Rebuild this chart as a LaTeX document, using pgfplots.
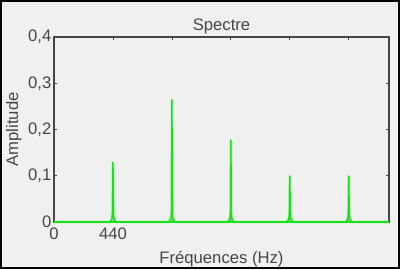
\documentclass[border=0pt]{standalone}
\usepackage{pgfplots}
\pgfplotsset{compat=1.18}
\usepackage{fontspec}
\setmainfont{Liberation Sans}
\definecolor{bg}{RGB}{240,240,240}
\definecolor{spec}{RGB}{25,225,25}
\definecolor{axc}{RGB}{70,70,70}
\begin{document}
\begin{tikzpicture}
\path[use as bounding box, fill=bg] (-40.5pt,-35.25pt) rectangle (259.5pt,166.5pt);
\begin{axis}[
  at={(0,0)}, anchor=south west,
  scale only axis, width=251.25pt, height=138.75pt,
  xmin=0, xmax=2500, ymin=0, ymax=0.4,
  axis background/.style={fill=bg},
  axis line style={axc, line width=0.8pt},
  tick style={axc, line width=0.6pt},
  tick align=inside, major tick length=2pt,
  xtick={0,440,880,1320,1760,2200},
  xticklabels={0,440,,,,},
  ytick={0,0.1,0.2,0.3,0.4},
  yticklabels={0,{0,1},{0,2},{0,3},{0,4}},
  ticklabel style={font=\fontsize{12.5}{14}\selectfont, text=axc},
  xticklabel style={yshift=-1pt},
  yticklabel style={xshift=1.5pt},
  title={Spectre},
  title style={font=\fontsize{12.5}{14}\selectfont, text=axc, yshift=-7pt},
  xlabel={Fréquences (Hz)},
  xlabel style={font=\fontsize{12.5}{14}\selectfont, text=axc, yshift=-1.5pt},
  ylabel={Amplitude},
  ylabel style={font=\fontsize{12.5}{14}\selectfont, text=axc, yshift=-2pt},
  clip=false,
]
\addplot[spec!45, line width=2.2pt, opacity=0.6] coordinates {
(0,0) (415,0) (432,0.006) (437,0.02) (440,0.13) (443,0.02) (448,0.006) (465,0)
(855,0) (872,0.006) (877,0.02) (880,0.265) (883,0.02) (888,0.006) (905,0)
(1295,0) (1312,0.006) (1317,0.02) (1320,0.178) (1323,0.02) (1328,0.006) (1345,0)
(1735,0) (1752,0.006) (1757,0.02) (1760,0.1) (1763,0.02) (1768,0.006) (1785,0)
(2175,0) (2192,0.006) (2197,0.02) (2200,0.1) (2203,0.02) (2208,0.006) (2225,0) (2500,0)
};
\addplot[spec, line width=1.1pt] coordinates {
(0,0) (415,0) (432,0.006) (437,0.02) (440,0.13) (443,0.02) (448,0.006) (465,0)
(855,0) (872,0.006) (877,0.02) (880,0.265) (883,0.02) (888,0.006) (905,0)
(1295,0) (1312,0.006) (1317,0.02) (1320,0.178) (1323,0.02) (1328,0.006) (1345,0)
(1735,0) (1752,0.006) (1757,0.02) (1760,0.1) (1763,0.02) (1768,0.006) (1785,0)
(2175,0) (2192,0.006) (2197,0.02) (2200,0.1) (2203,0.02) (2208,0.006) (2225,0) (2500,0)
};
\addplot[spec, line width=2.2pt] coordinates {(0,0) (2500,0)};
\end{axis}
\draw[black, line width=1.2pt] (-40.5pt+0.6pt,-35.25pt+0.6pt) rectangle (259.5pt-0.6pt,166.5pt-0.6pt);
\end{tikzpicture}
\end{document}
